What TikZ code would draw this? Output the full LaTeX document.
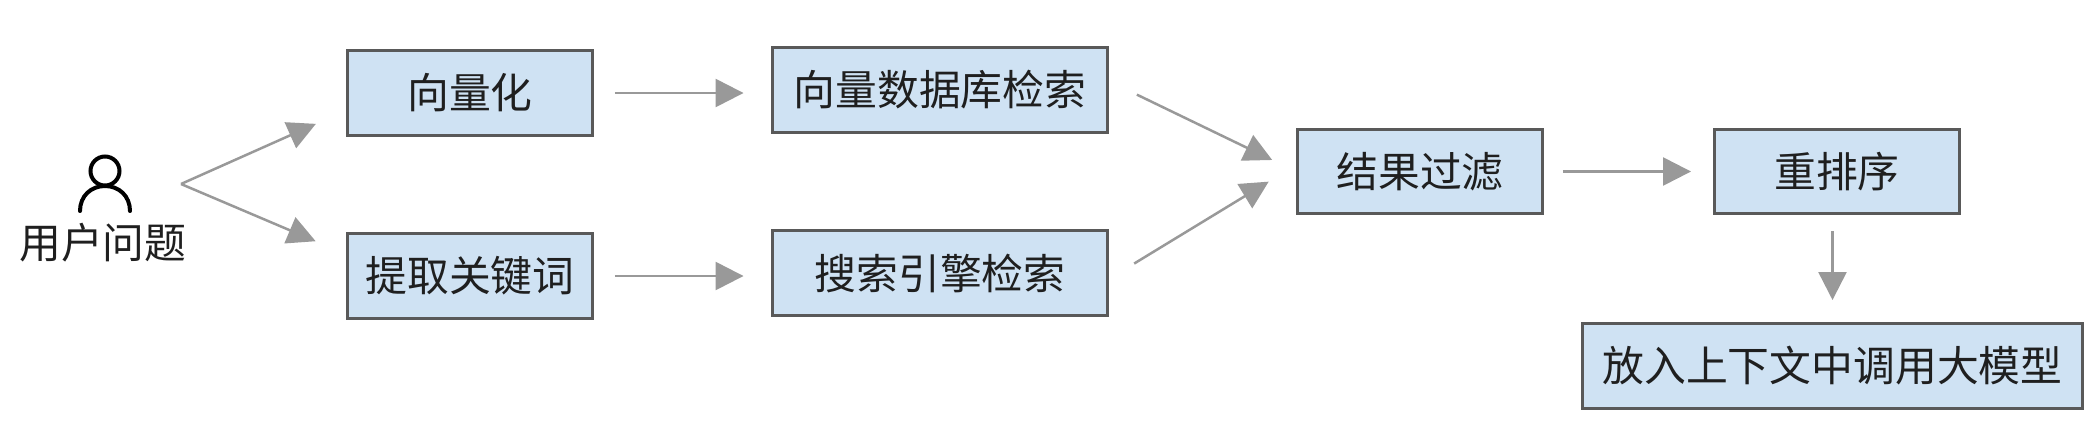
\documentclass[tikz,border=0pt]{standalone}
\usepackage{fontspec}
\usepackage{tikz}
\usetikzlibrary{arrows.meta}
\setmainfont{Noto Sans CJK SC}
\definecolor{boxfill}{HTML}{CFE2F3}
\definecolor{boxline}{HTML}{595959}
\definecolor{flowline}{HTML}{999999}
\definecolor{inktext}{HTML}{1F1F1F}

\begin{document}
\begin{tikzpicture}[x=0.02cm,y=-0.02cm,font=\fontsize{23.8}{28}\selectfont,text=inktext]
    \tikzstyle{stage}=[draw=boxline,fill=boxfill,line width=0.06cm,minimum height=1.7cm,inner sep=0pt]
    \tikzstyle{short stage}=[stage,minimum width=4.9cm]
    \tikzstyle{wide stage}=[stage,minimum width=6.7cm]
    \tikzstyle{flow}=[draw=flowline,line width=0.05cm,-{Triangle[length=0.56cm,width=0.56cm]}]

    % Keep the margins of the whole page
    \useasboundingbox (0,0) rectangle (2100,444);

    % Draw the user
    \draw[line width=0.08cm,line cap=round] (105,171) ellipse (14.5 and 14.5);
    \draw[line width=0.08cm,line cap=round] (80,211) .. controls (80,196) and (91,186) .. (105,186)
        .. controls (119,186) and (130,196) .. (130,211);
    \node[inner sep=0pt] (user) at (103,243) {用户问题};
    \coordinate (fork) at (181,184);

    % Draw the stages
    \node[short stage] (vec) at (470,93) {向量化};
    \node[short stage] (kw) at (470,276) {提取关键词};
    \node[wide stage] (vecsearch) at (940,90) {向量数据库检索};
    \node[wide stage] (websearch) at (940,273) {搜索引擎检索};
    \node[short stage] (filter) at (1420,171.5) {结果过滤};
    \node[short stage] (rerank) at (1837,171.5) {重排序};
    \node[stage,minimum width=10cm] (llm) at (1832.5,366) {放入上下文中调用大模型};

    % Connect the user with the first stages
    \path[flow,shorten >=0.66cm] (fork) -- (vec.188);
    \path[flow,shorten >=0.66cm] (fork) -- (kw.170);

    % Connect each first stage with its search
    \foreach \source / \dest in {vec/vecsearch,kw/websearch}
        \path[flow,yshift=0.03cm,shorten <=0.42cm,shorten >=0.55cm] (\source.east) -- (\dest.west |- \source.east);

    % Both searches go into the filter
    \path[flow,shorten <=0.62cm,shorten >=0.53cm] (vecsearch.3) -- (filter.180);
    \path[flow,shorten <=0.59cm,shorten >=0.64cm] (websearch.-2) -- (filter.177);

    % Draw the last steps
    \path[flow,shorten <=0.38cm,shorten >=0.44cm] (filter) -- (rerank);
    \path[flow,shorten <=0.32cm,shorten >=0.44cm] (rerank.south -| llm.north) -- (llm.north);
\end{tikzpicture}
\end{document}
